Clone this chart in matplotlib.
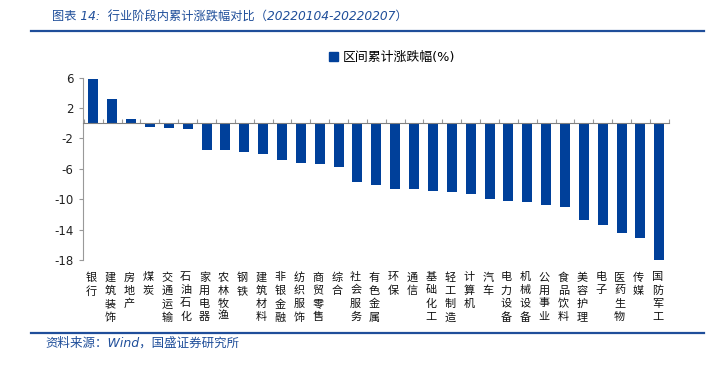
import matplotlib
matplotlib.use("Agg")
import matplotlib.pyplot as plt
from matplotlib.transforms import blended_transform_factory
from matplotlib.lines import Line2D
from matplotlib.patches import Patch

plt.rcParams['font.family'] = ['DejaVu Sans', 'Noto Sans CJK SC']

categories = ['银行', '建筑装饰', '房地产', '煤炭', '交通运输', '石油石化', '家用电器', '农林牧渔',
              '钢铁', '建筑材料', '非银金融', '纺织服饰', '商贸零售', '综合', '社会服务', '有色金属',
              '环保', '通信', '基础化工', '轻工制造', '计算机', '汽车', '电力设备', '机械设备',
              '公用事业', '食品饮料', '美容护理', '电子', '医药生物', '传媒', '国防军工']
values = [5.8, 3.15, 0.5, -0.48, -0.66, -0.7, -3.46, -3.55,
          -3.82, -4.08, -4.82, -5.18, -5.35, -5.7, -7.68, -8.16,
          -8.6, -8.6, -8.9, -9.0, -9.25, -10.0, -10.18, -10.35,
          -10.7, -10.96, -12.7, -13.4, -14.47, -15.13, -18.0]
yticks = [6, 2, -2, -6, -10, -14, -18]
series_name = '区间累计涨跌幅(%)'
title = '图表 14:  行业阶段内累计涨跌幅对比（20220104-20220207）'
source = '资料来源：Wind，国盛证券研究所'

BAR = '#00409A'
BLUE_TXT = '#1F4E9A'

fig = plt.figure(figsize=(7.11, 3.66), dpi=100)
ax = fig.add_axes([0.1172, 0.2896, 0.8242, 0.4981])

n = len(categories)
x = list(range(n))
ax.bar(x, values, width=0.53, color=BAR, zorder=3)

ax.set_xlim(-0.53, n - 0.47)
ax.set_ylim(-18, 6)
ax.set_yticks(yticks)
ax.set_yticklabels([str(t) for t in yticks], fontsize=8.5, color='#222222')
ax.tick_params(axis='y', direction='out', length=3, color='#999999', pad=4)

for s in ['top', 'right']:
    ax.spines[s].set_visible(False)
ax.spines['left'].set_color('#999999')
ax.spines['bottom'].set_position(('data', 0))
ax.spines['bottom'].set_color('#808080')
ax.spines['bottom'].set_zorder(4)

ax.set_xticks([i + 0.5 for i in range(-1, n)])
ax.set_xticklabels([])
ax.tick_params(axis='x', direction='in', length=3, color='#999999')

trans = blended_transform_factory(ax.transData, ax.transAxes)
for i, c in enumerate(categories):
    ax.text(i - 0.1, -0.068, '\n'.join(c), transform=trans, ha='center', va='top',
            fontsize=8, linespacing=1.38, color='#111111',
            family=['Noto Sans CJK SC'])

leg = ax.legend(handles=[Patch(color=BAR)], labels=[series_name],
                loc='upper left', bbox_to_anchor=(0.4, 1.21), frameon=False,
                handlelength=0.7, handleheight=0.7, handletextpad=0.35,
                prop={'family': ['DejaVu Sans', 'Noto Sans CJK SC'], 'size': 9.3})

fig.text(52 / 711, 1 - 17 / 366, title, ha='left', va='center', fontsize=8.8,
         style='italic', color=BLUE_TXT)
fig.add_artist(Line2D([31 / 711, 704 / 711], [1 - 30.7 / 366] * 2,
                      color='#1F4E9A', lw=1.6))
fig.add_artist(Line2D([31 / 711, 704 / 711], [1 - 333 / 366] * 2,
                      color='#1F4E9A', lw=1.6))
fig.text(45 / 711, 1 - 343 / 366, source, ha='left', va='center', fontsize=9,
         style='italic', color=BLUE_TXT)

fig.savefig('out.png', dpi=100)
